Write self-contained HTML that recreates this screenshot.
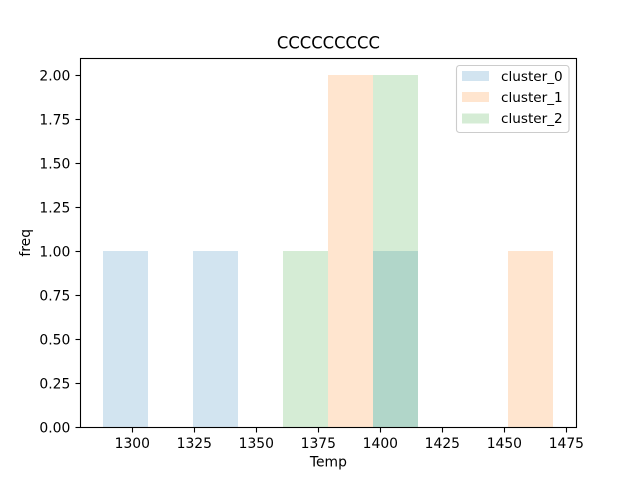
<!DOCTYPE html>
<html lang="en">
<head>
<meta charset="utf-8">
<title>CCCCCCCCC</title>
<style>
html,body{margin:0;padding:0;background:#fff;width:640px;height:480px;overflow:hidden}
svg{display:block}
text{font-family:"DejaVu Sans","Liberation Sans",sans-serif;fill:#000}
</style>
</head>
<body>
<svg id="chart" xmlns="http://www.w3.org/2000/svg" width="640" height="480" viewBox="0 0 640 480">
  <rect x="0" y="0" width="640" height="480" fill="#ffffff"/>
  <g id="bars"></g>
  <g id="ticks"></g>
  <rect x="80.5" y="58.5" width="496" height="369" fill="none" stroke="#000" stroke-width="1.1"/>
  <text x="328.4" y="48.5" font-size="16.4" text-anchor="middle">CCCCCCCCC</text>
  <text x="328.4" y="466.5" font-size="13.89" text-anchor="middle">Temp</text>
  <text x="0" y="0" font-size="13.89" text-anchor="middle" transform="translate(30 242.8) rotate(-90)">freq</text>
  <g>
    <rect x="456.5" y="65.5" width="112.5" height="67" rx="3" ry="3" fill="#ffffff" fill-opacity="0.8" stroke="#cccccc" stroke-width="1.1"/>
    <g>
      <rect x="462" y="71" width="27" height="10" fill="#1f77b4" fill-opacity="0.2"/>
      <text x="501" y="81" font-size="13.6">cluster_0</text>
    </g>
    <g>
      <rect x="462" y="92" width="27" height="10" fill="#ff7f0e" fill-opacity="0.2"/>
      <text x="501" y="102" font-size="13.6">cluster_1</text>
    </g>
    <g>
      <rect x="462" y="113.5" width="27" height="10" fill="#2ca02c" fill-opacity="0.2"/>
      <text x="501" y="123" font-size="13.6">cluster_2</text>
    </g>
  </g>
</svg>
<script>
const binEdges = [1288, 1306.18, 1324.36, 1342.54, 1360.72, 1378.9, 1397.08, 1415.26, 1433.44, 1451.62, 1469.8];
const cluster0Counts = [1, 0, 1, 0, 0, 0, 1, 0, 0, 0];
const cluster1Counts = [0, 0, 0, 0, 0, 2, 0, 0, 0, 1];
const cluster2Counts = [0, 0, 0, 0, 1, 0, 2, 0, 0, 0];
const xTickValues = [1300, 1325, 1350, 1375, 1400, 1425, 1450, 1475];
const yTickLabels = ["0.00", "0.25", "0.50", "0.75", "1.00", "1.25", "1.50", "1.75", "2.00"];

const NS = "http://www.w3.org/2000/svg";
const plotLeft = 80, plotRight = 576, plotTop = 57.6, plotBottom = 427.2;
const xMin = binEdges[0], xMax = binEdges[binEdges.length - 1];
const xPad = (xMax - xMin) * 0.05;
function xScale(v) {
  return plotLeft + (v - (xMin - xPad)) / ((xMax - xMin) + 2 * xPad) * (plotRight - plotLeft);
}
function yScale(v) {
  return plotBottom - v / 2.1 * (plotBottom - plotTop);
}
const barsLayer = document.getElementById("bars");
const ticksLayer = document.getElementById("ticks");

function drawSeries(counts, color, key) {
  counts.forEach(function (count, i) {
    if (count <= 0) return;
    const x0 = Math.round(xScale(binEdges[i]));
    const x1 = Math.round(xScale(binEdges[i + 1]));
    const y1 = Math.round(yScale(count));
    const y0 = Math.round(plotBottom);
    const r = document.createElementNS(NS, "rect");
    
    
    r.setAttribute("x", x0);
    r.setAttribute("y", y1);
    r.setAttribute("width", x1 - x0);
    r.setAttribute("height", y0 - y1);
    r.setAttribute("fill", color);
    r.setAttribute("fill-opacity", "0.2");
    barsLayer.appendChild(r);
  });
}
drawSeries(cluster0Counts, "#1f77b4", "cluster-0");
drawSeries(cluster1Counts, "#ff7f0e", "cluster-1");
drawSeries(cluster2Counts, "#2ca02c", "cluster-2");

xTickValues.forEach(function (v) {
  const x = Math.round(xScale(v)) + 0.5;
  const t = document.createElementNS(NS, "line");
  
  
  t.setAttribute("x1", x);
  t.setAttribute("x2", x);
  t.setAttribute("y1", 427.5);
  t.setAttribute("y2", 432.5);
  t.setAttribute("stroke", "#000");
  t.setAttribute("stroke-width", "1.1");
  ticksLayer.appendChild(t);
  const l = document.createElementNS(NS, "text");
  
  
  l.setAttribute("x", xScale(v));
  l.setAttribute("y", 448);
  l.setAttribute("font-size", "13.89");
  l.setAttribute("text-anchor", "middle");
  l.textContent = String(v);
  ticksLayer.appendChild(l);
});

yTickLabels.forEach(function (label) {
  const v = parseFloat(label);
  const y = Math.round(yScale(v)) + 0.5;
  const t = document.createElementNS(NS, "line");
  
  
  t.setAttribute("x1", 75.5);
  t.setAttribute("x2", 80.5);
  t.setAttribute("y1", y);
  t.setAttribute("y2", y);
  t.setAttribute("stroke", "#000");
  t.setAttribute("stroke-width", "1.1");
  ticksLayer.appendChild(t);
  const l = document.createElementNS(NS, "text");
  
  
  l.setAttribute("x", 70.3);
  l.setAttribute("y", yScale(v) + 5.2);
  l.setAttribute("font-size", "13.89");
  l.setAttribute("text-anchor", "end");
  l.textContent = label;
  ticksLayer.appendChild(l);
});
</script>
</body>
</html>
